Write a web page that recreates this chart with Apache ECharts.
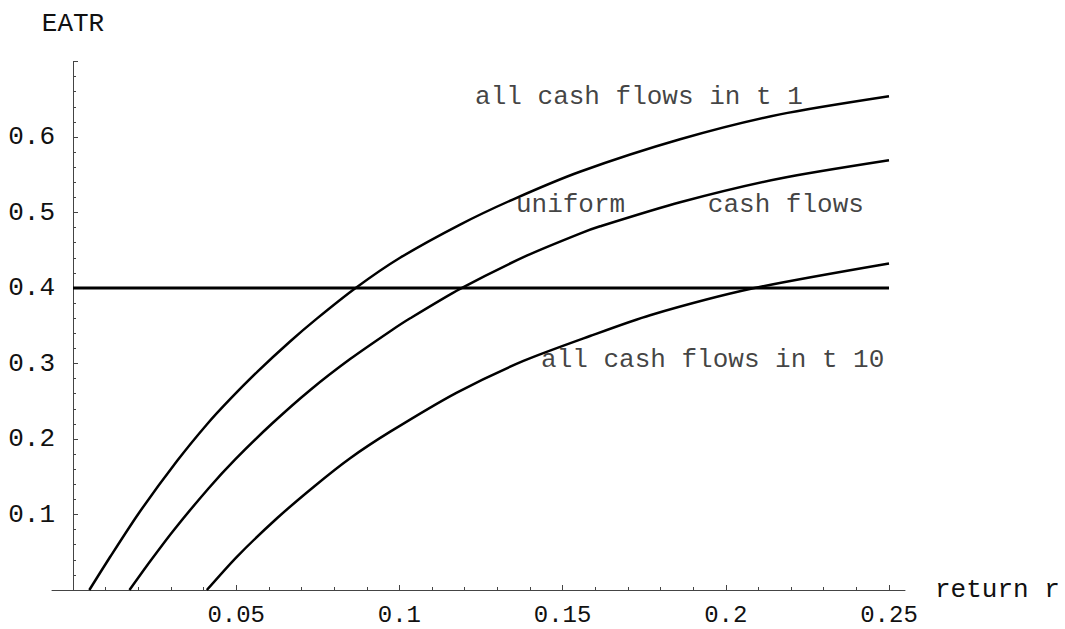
<!DOCTYPE html>
<html>
<head>
<meta charset="utf-8">
<script src="https://cdn.jsdelivr.net/npm/echarts@6/dist/echarts.min.js"></script>
<style>
html,body{margin:0;padding:0;background:#fff;}
#chart{width:1065px;height:629px;}
</style>
</head>
<body>
<div id="chart"></div>
<script>
// ---- data ----
const xTickLabels = ['0.05', '0.1', '0.15', '0.2', '0.25'];
const yTickLabels = ['0.1', '0.2', '0.3', '0.4', '0.5', '0.6'];

const cashT1 = [
  [0.005, 0], [0.0114, 0.044], [0.0201, 0.1014], [0.0318, 0.1704], [0.041, 0.2192],
  [0.0482, 0.253], [0.0566, 0.2895], [0.0665, 0.3291], [0.0747, 0.3594], [0.0866, 0.400],
  [0.1002, 0.440], [0.1186, 0.484], [0.1349, 0.5175], [0.1553, 0.554], [0.186, 0.597],
  [0.2166, 0.630], [0.25, 0.654]
];
const uniform = [
  [0.0173, 0], [0.0237, 0.0384], [0.0308, 0.0789], [0.0415, 0.1345], [0.0497, 0.173],
  [0.061, 0.2205], [0.0727, 0.265], [0.0849, 0.3059], [0.0972, 0.3428], [0.1033, 0.3599],
  [0.1186, 0.3989], [0.139, 0.4428], [0.1553, 0.4721], [0.1615, 0.4817], [0.186, 0.5136],
  [0.2166, 0.5451], [0.25, 0.5692]
];
const cashT10 = [
  [0.041, 0], [0.0502, 0.044], [0.0625, 0.095], [0.0737, 0.1365], [0.0849, 0.1745],
  [0.0972, 0.2097], [0.1176, 0.2615], [0.138, 0.3034], [0.1584, 0.3364], [0.1768, 0.364],
  [0.2084, 0.3996], [0.25, 0.4325]
];
const statutory = [[0, 0.4], [0.25, 0.4]];

const annotations = [
  { text: 'all cash flows in t 1', at: [0.1232, 0.6534] },
  { text: 'uniform', at: [0.1357, 0.510] },
  { text: 'cash flows', at: [0.1945, 0.510] },
  { text: 'all cash flows in t 10', at: [0.1434, 0.3046] }
];

// ---- chart ----
const FONT = "'Liberation Mono', 'Courier New', monospace";
const FS = 26;
const axisColor = '#444';
const textColor = '#111';

const chart = echarts.init(document.getElementById('chart'), null, { renderer: 'svg' });

const option = {
  backgroundColor: '#ffffff',
  animation: false,
  grid: [
    { left: 73, right: 176, top: 61.5, bottom: 39, outerBoundsMode: 'none', containLabel: false },
    { left: 52, right: 160, top: 61.5, bottom: 39, outerBoundsMode: 'none', containLabel: false }
  ],
  xAxis: [
    {
      type: 'value', gridIndex: 0, min: 0, max: 0.25, interval: 0.05,
      name: 'return r', nameLocation: 'end', nameGap: 46,
      nameTextStyle: { fontFamily: FONT, fontSize: FS, color: textColor, align: 'left', verticalAlign: 'middle' },
      axisLine: { show: true, onZero: true, lineStyle: { color: axisColor, width: 1 } },
      axisTick: { show: true, inside: true, length: 5, lineStyle: { color: axisColor, width: 1 } },
      minorTick: { show: true, splitNumber: 5, length: 3, lineStyle: { color: axisColor, width: 1 } },
      splitLine: { show: false },
      minorSplitLine: { show: false },
      axisLabel: {
        show: true, margin: 13, fontFamily: FONT, fontSize: 24, lineHeight: 24, color: textColor,
        showMinLabel: true, showMaxLabel: true, hideOverlap: false,
        formatter: function (v) {
          const idx = Math.round(v / 0.05) - 1;
          return idx >= 0 && idx < xTickLabels.length ? xTickLabels[idx] : '';
        }
      }
    },
    {
      type: 'value', gridIndex: 1, min: 0, max: 1,
      axisLine: { show: true, onZero: false, lineStyle: { color: axisColor, width: 1 } },
      axisTick: { show: false }, axisLabel: { show: false }, splitLine: { show: false }
    }
  ],
  yAxis: [
    {
      type: 'value', gridIndex: 0, min: 0, max: 0.7, interval: 0.1,
      name: 'EATR', nameLocation: 'end', nameGap: 25,
      nameTextStyle: { fontFamily: FONT, fontSize: FS, color: textColor, align: 'center' },
      axisLine: { show: true, onZero: true, lineStyle: { color: axisColor, width: 1 } },
      axisTick: { show: true, inside: true, length: 5, lineStyle: { color: axisColor, width: 1 } },
      minorTick: { show: true, splitNumber: 5, length: 3, lineStyle: { color: axisColor, width: 1 } },
      splitLine: { show: false },
      minorSplitLine: { show: false },
      axisLabel: {
        show: true, margin: 18, fontFamily: FONT, fontSize: FS, color: textColor,
        showMinLabel: true, showMaxLabel: true, hideOverlap: false,
        formatter: function (v) {
          const idx = Math.round(v / 0.1) - 1;
          return idx >= 0 && idx < yTickLabels.length ? yTickLabels[idx] : '';
        }
      }
    },
    {
      type: 'value', gridIndex: 1, min: 0, max: 1, show: false
    }
  ],
  series: [
    {
      type: 'line', name: 'all cash flows in t 1', data: cashT1, xAxisIndex: 0, yAxisIndex: 0,
      showSymbol: false, symbol: 'none', smooth: 0.25, clip: false,
      lineStyle: { color: '#000', width: 2.5 }
    },
    {
      type: 'line', name: 'uniform cash flows', data: uniform, xAxisIndex: 0, yAxisIndex: 0,
      showSymbol: false, symbol: 'none', smooth: 0.25, clip: false,
      lineStyle: { color: '#000', width: 2.5 }
    },
    {
      type: 'line', name: 'all cash flows in t 10', data: cashT10, xAxisIndex: 0, yAxisIndex: 0,
      showSymbol: false, symbol: 'none', smooth: 0.25, clip: false,
      lineStyle: { color: '#000', width: 2.5 }
    },
    {
      type: 'line', name: 'statutory', data: statutory, xAxisIndex: 0, yAxisIndex: 0,
      showSymbol: false, symbol: 'none', clip: false,
      lineStyle: { color: '#000', width: 3 }
    },
    {
      type: 'scatter', name: 'labels', xAxisIndex: 0, yAxisIndex: 0,
      symbolSize: 0, silent: true,
      data: annotations.map(a => ({ value: a.at, name: a.text })),
      label: {
        show: true, position: 'right', distance: 0,
        fontFamily: FONT, fontSize: FS, color: textColor,
        formatter: p => p.name
      }
    }
  ]
};
chart.setOption(option);
</script>
</body>
</html>
